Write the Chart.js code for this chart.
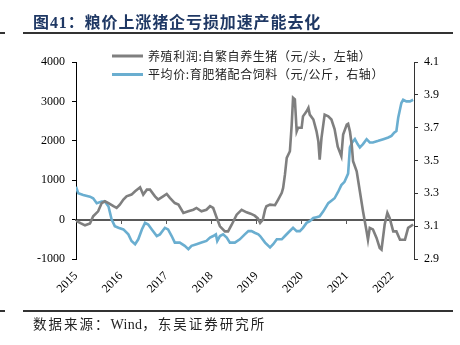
<!DOCTYPE html>
<html>
<head>
<meta charset="utf-8">
<script src="https://cdn.jsdelivr.net/npm/chart.js@4"></script>
<style>
  html, body { margin: 0; padding: 0; background: #fff; }
  #wrap { position: relative; width: 460px; height: 345px; overflow: hidden; }
  #c { position: absolute; left: 0; top: 0; }
  .title { position: absolute; left: 33px; top: 9px; line-height: 16px; white-space: nowrap;
           font: bold 16px "Liberation Serif", "Noto Sans CJK SC"; color: #1f3864; letter-spacing: 0.9px; }
  .rule { position: absolute; height: 2px; background: #333; }
  .src { position: absolute; left: 33px; top: 313px; line-height: 14px; white-space: nowrap;
         font: 13.5px "Liberation Serif", "Noto Sans CJK SC"; color: #222; letter-spacing: 2px; }
  .src .lat { letter-spacing: 0.3px; font-size: 14px; }
</style>
</head>
<body>
<div id="wrap">
  <canvas id="c" width="460" height="345"></canvas>
  <div class="title">图41：粮价上涨猪企亏损加速产能去化</div>
  <div class="rule" style="left:0;width:5px;top:32px;"></div>
  <div class="rule" style="left:23px;width:430px;top:32px;"></div>
  <div class="rule" style="left:0;width:5px;top:310px;"></div>
  <div class="rule" style="left:23px;width:430px;top:310px;"></div>
  <div class="src">数据来源：<span class="lat">Wind</span>，东吴证券研究所</div>
</div>
<script>
// Series labels
const profitLabel = '养殖利润:自繁自养生猪（元/头，左轴）';
const feedLabel = '平均价:育肥猪配合饲料（元/公斤，右轴）';

// Year ticks on the time axis
const yearTicks = [2015, 2016, 2017, 2018, 2019, 2020, 2021, 2022];
const timeMin = 2015;
const timeMax = 2022.49;

// Hog farming profit (yuan/head), sampled by fractional year
const profitDate = [2015.00, 2015.10, 2015.20, 2015.31, 2015.38, 2015.49, 2015.57, 2015.64, 2015.72, 2015.83,
  2015.90, 2015.97, 2016.05, 2016.12, 2016.23, 2016.31, 2016.42, 2016.49, 2016.57, 2016.64,
  2016.75, 2016.82, 2016.93, 2017.01, 2017.08, 2017.19, 2017.27, 2017.38, 2017.49, 2017.60,
  2017.67, 2017.78, 2017.89, 2017.97, 2018.04, 2018.12, 2018.19, 2018.30, 2018.37, 2018.45,
  2018.56, 2018.67, 2018.78, 2018.87, 2018.96, 2019.03, 2019.08, 2019.14, 2019.19, 2019.22,
  2019.30, 2019.41, 2019.48, 2019.56, 2019.59, 2019.63, 2019.67, 2019.74, 2019.78, 2019.81,
  2019.85, 2019.89, 2019.92, 2020.00, 2020.03, 2020.11, 2020.15, 2020.18, 2020.26, 2020.33,
  2020.37, 2020.40, 2020.44, 2020.51, 2020.59, 2020.66, 2020.73, 2020.80, 2020.88, 2020.92,
  2021.00, 2021.03, 2021.07, 2021.11, 2021.14, 2021.22, 2021.29, 2021.36, 2021.44, 2021.47,
  2021.51, 2021.58, 2021.66, 2021.73, 2021.77, 2021.84, 2021.90, 2021.95, 2022.03, 2022.10,
  2022.18, 2022.29, 2022.36, 2022.47];
const profitValue = [-30, -90, -145, -100, 85, 210, 420, 465, 420, 340,
  295, 380, 510, 590, 635, 720, 820, 635, 760, 760,
  590, 510, 590, 650, 550, 420, 380, 170, 210, 250,
  295, 210, 250, 340, 295, 40, -170, -300, -300, -130,
  125, 250, 185, 150, 100, 30, -85, 0, 254, 340,
  380, 365, 510, 680, 805, 1140, 1565, 1735, 2410, 3090,
  3050, 2240, 2330, 2330, 2620, 2750, 2835, 2665, 2540, 2240,
  1990, 1520, 2075, 2665, 2620, 2540, 2300, 1850, 1610, 2160,
  2410, 2430, 2240, 1900, 1480, 1225, 720, 210, -300, -510,
  -210, -250, -465, -720, -760, -125, 170, 43, -300, -300,
  -510, -510, -210, -125];

// Average price of fattening-pig compound feed (yuan/kg)
const feedDate = [2015.00, 2015.05, 2015.16, 2015.31, 2015.38, 2015.46, 2015.57, 2015.64, 2015.72, 2015.79,
  2015.86, 2015.94, 2016.05, 2016.16, 2016.23, 2016.31, 2016.38, 2016.46, 2016.53, 2016.60,
  2016.68, 2016.79, 2016.86, 2016.97, 2017.04, 2017.12, 2017.19, 2017.30, 2017.41, 2017.49,
  2017.56, 2017.67, 2017.78, 2017.89, 2017.97, 2018.04, 2018.10, 2018.13, 2018.19, 2018.26,
  2018.34, 2018.41, 2018.52, 2018.63, 2018.74, 2018.82, 2018.89, 2018.96, 2019.04, 2019.08,
  2019.19, 2019.30, 2019.37, 2019.45, 2019.56, 2019.63, 2019.70, 2019.81, 2019.89, 2019.96,
  2020.03, 2020.11, 2020.18, 2020.26, 2020.33, 2020.40, 2020.48, 2020.59, 2020.66, 2020.73,
  2020.81, 2020.88, 2020.95, 2021.03, 2021.07, 2021.12, 2021.18, 2021.24, 2021.29, 2021.36,
  2021.44, 2021.51, 2021.58, 2021.70, 2021.81, 2021.92, 2021.99, 2022.05, 2022.10, 2022.14,
  2022.21, 2022.25, 2022.32, 2022.40, 2022.47];
const feedValue = [3.34, 3.30, 3.29, 3.28, 3.27, 3.24, 3.25, 3.25, 3.22, 3.14,
  3.10, 3.09, 3.08, 3.05, 3.01, 2.99, 3.02, 3.08, 3.12, 3.11,
  3.08, 3.04, 3.05, 3.09, 3.08, 3.04, 3.00, 3.00, 2.98, 2.96,
  2.98, 2.99, 3.00, 3.01, 3.03, 3.04, 3.05, 3.01, 3.04, 3.05,
  3.03, 3.00, 3.00, 3.02, 3.05, 3.07, 3.07, 3.06, 3.05, 3.04,
  3.00, 2.97, 2.99, 3.02, 3.02, 3.04, 3.06, 3.09, 3.07, 3.07,
  3.09, 3.12, 3.13, 3.15, 3.155, 3.16, 3.19, 3.24, 3.255, 3.27,
  3.31, 3.35, 3.37, 3.42, 3.58, 3.61, 3.63, 3.60, 3.58, 3.60,
  3.63, 3.61, 3.61, 3.62, 3.63, 3.64, 3.65, 3.67, 3.68, 3.76,
  3.85, 3.87, 3.86, 3.86, 3.87];

const toPoints = (xs, ys) => xs.map((x, i) => ({ x: x, y: ys[i] }));

const tickFont = { family: '"Liberation Serif", "Times New Roman", serif', size: 12 };
const LEGEND_ROWS = [56, 74.5];

// Legend drawn as two stacked rows over the upper part of the plot
const rowLegend = {
  id: 'rowLegend',
  afterDraw(chart) {
    const ctx = chart.ctx;
    ctx.save();
    ctx.font = '12px "Noto Sans CJK SC"';
    ctx.letterSpacing = '0.6px';
    ctx.textBaseline = 'middle';
    ctx.textAlign = 'left';
    chart.data.datasets.forEach((ds, i) => {
      const y = LEGEND_ROWS[i];
      ctx.strokeStyle = ds.borderColor;
      ctx.lineWidth = 3;
      ctx.beginPath();
      ctx.moveTo(112, y);
      ctx.lineTo(143, y);
      ctx.stroke();
      ctx.fillStyle = '#222';
      ctx.fillText(ds.label, 148, y);
    });
    ctx.restore();
  }
};

new Chart(document.getElementById('c'), {
  type: 'line',
  data: {
    datasets: [
      {
        label: profitLabel,
        data: toPoints(profitDate, profitValue),
        borderColor: '#7f7f7f',
        borderWidth: 2.6,
        pointRadius: 0,
        tension: 0,
        yAxisID: 'y',
        xAxisID: 'x'
      },
      {
        label: feedLabel,
        data: toPoints(feedDate, feedValue),
        borderColor: '#6aaed0',
        borderWidth: 2.6,
        pointRadius: 0,
        tension: 0,
        yAxisID: 'y1',
        xAxisID: 'x'
      }
    ]
  },
  options: {
    responsive: false,
    animation: false,
    devicePixelRatio: 1,
    layout: { padding: { top: 62, left: 0, right: 0, bottom: 0 } },
    plugins: { legend: { display: false }, tooltip: { enabled: false } },
    scales: {
      x: {
        type: 'linear',
        position: 'bottom',
        min: timeMin,
        max: timeMax,
        afterBuildTicks: (s) => { s.ticks = yearTicks.map(v => ({ value: v })); },
        afterFit: (s) => { s.height = 86; },
        border: { display: false },
        grid: { display: false },
        ticks: {
          autoSkip: false,
          minRotation: 45,
          maxRotation: 45,
          padding: 2,
          color: '#000',
          font: tickFont,
          callback: (v) => String(v)
        }
      },
      x0: {
        type: 'linear',
        position: { y: 0 },
        min: timeMin,
        max: timeMax,
        afterBuildTicks: (s) => { s.ticks = yearTicks.map(v => ({ value: v })); },
        border: { display: true, color: '#595959', width: 2 },
        grid: { drawOnChartArea: false, drawTicks: true, tickLength: 3, color: '#595959', lineWidth: 1 },
        ticks: { display: false }
      },
      y: {
        position: 'left',
        min: -1000,
        max: 4000,
        afterFit: (s) => { s.width = 76; },
        border: { display: true, color: '#000', width: 1 },
        grid: { drawOnChartArea: false, drawTicks: true, tickLength: 4, color: '#000' },
        ticks: { stepSize: 1000, padding: 7, color: '#000', font: tickFont, callback: (v) => String(v) }
      },
      y1: {
        position: 'right',
        min: 2.9,
        max: 4.1,
        afterFit: (s) => { s.width = 46; },
        border: { display: true, color: '#333', width: 1 },
        grid: { drawOnChartArea: false, drawTicks: true, tickLength: 4, color: '#333' },
        ticks: { stepSize: 0.2, padding: 6, color: '#000', font: tickFont, callback: (v) => Number(v).toFixed(1) }
      }
    }
  },
  plugins: [rowLegend]
});
</script>
</body>
</html>
